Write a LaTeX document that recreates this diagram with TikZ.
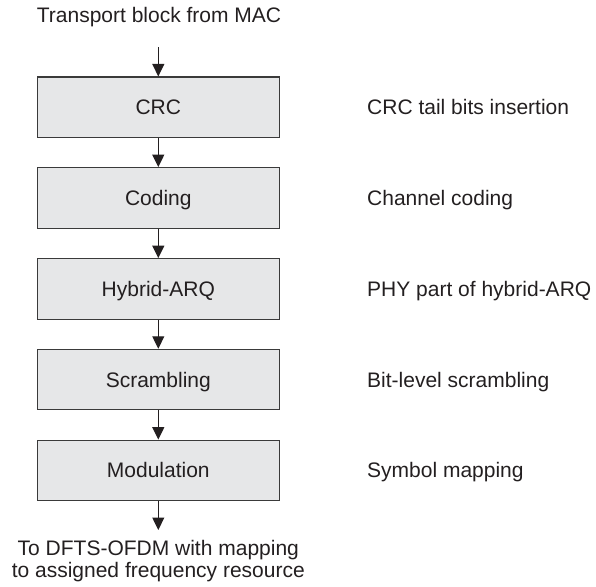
\documentclass[tikz,border=0pt]{standalone}
\usepackage{fontspec}
\setmainfont{Liberation Sans}
\usetikzlibrary{arrows.meta}
\definecolor{ink}{HTML}{231F20}
\definecolor{boxfill}{HTML}{E6E7E8}
\definecolor{boxline}{HTML}{3A3A3A}
\tikzset{
  stage/.style={draw=boxline, fill=boxfill, line width=1.2pt, inner sep=0pt,
    minimum width=242pt, minimum height=60.5pt, text=ink,
    text height=15pt, text depth=0pt},
  note/.style={anchor=west, inner sep=0pt, text=ink, text height=15pt, text depth=0pt},
  flow/.style={draw=ink, line width=1.2pt, -{Triangle[length=12.5pt,width=12pt]}},
}
\begin{document}
\begin{tikzpicture}[x=1pt,y=-1pt,font=\fontsize{21}{21.6}\selectfont]
\useasboundingbox (0,0) rectangle (596,586);

% chain of processing stages
\node[stage] (crc)  at (158.3,107.3) {CRC};
\node[stage] (cod)  at (158.3,197.9) {Coding};
\node[stage] (harq) at (158.3,289.0) {Hybrid-ARQ};
\node[stage] (scr)  at (158.3,379.6) {Scrambling};
\node[stage] (mod)  at (158.3,470.4) {Modulation};

% descriptions on the right
\node[note] (ncrc)  at (367,107.3) {CRC tail bits insertion};
\node[note] (ncod)  at (367,197.9) {Channel coding};
\node[note] (nharq) at (367,289.0) {PHY part of hybrid-ARQ};
\node[note] (nscr)  at (367,379.6) {Bit-level scrambling};
\node[note] (nmod)  at (367,470.4) {Symbol mapping};

% input and output
\node[inner sep=0pt, text=ink, text height=15pt, text depth=0pt] (in) at (159,15.5) {Transport block from MAC};
\coordinate (inend) at (158.3,47.3);
\coordinate (outend) at (158.3,530);
% base anchor sits on the last line's baseline
\node[inner sep=0pt, text=ink, align=center, anchor=base] (out) at (158.3,577.3)
  {To DFTS-OFDM with mapping\\to assigned frequency resource};

% connectors
\draw[flow] (inend) -- (crc.north);
\draw[flow] (crc.south) -- (cod.north);
\draw[flow] (cod.south) -- (harq.north);
\draw[flow] (harq.south) -- (scr.north);
\draw[flow] (scr.south) -- (mod.north);
\draw[flow] (mod.south) -- (outend);
\end{tikzpicture}
\end{document}
